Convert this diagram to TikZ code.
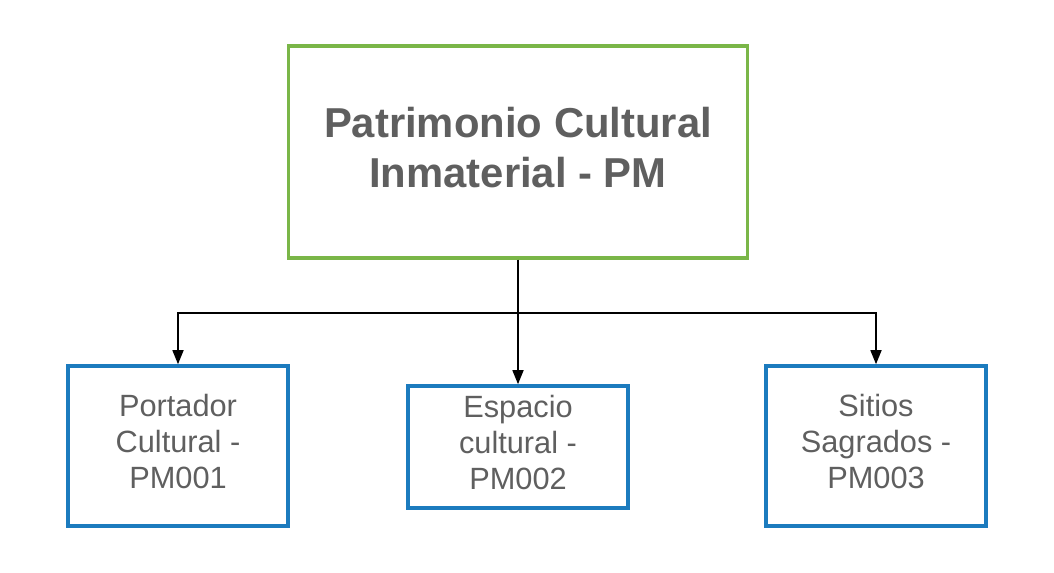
\documentclass[tikz,border=0pt]{standalone}
\usepackage{fontspec}
\setmainfont{Liberation Sans}
\usetikzlibrary{arrows.meta, calc, positioning}

\definecolor{pcgreen}{HTML}{7AB648}
\definecolor{pcblue}{HTML}{1C7BBE}
\definecolor{pctext}{HTML}{5F5F5F}

\begin{document}
\begin{tikzpicture}[
    x=0.02cm, y=-0.02cm,
    root/.style={draw=pcgreen, line width=2pt, minimum width=9.18cm, minimum height=4.24cm,
        align=center, text=pctext, text depth=5.6pt, font=\fontsize{23.8}{28.4}\selectfont\bfseries},
    leaf/.style={draw=pcblue, line width=2pt, minimum width=4.4cm, minimum height=3.2cm,
        align=center, text=pctext, text depth=5.5pt, font=\fontsize{17.5}{20.4}\selectfont},
    link/.style={line width=1.1pt, -{Triangle[length=8pt, width=6.2pt]}},
]
\useasboundingbox (0,0) rectangle (1054,573);

% Root
\node[root] (pm) at (518,152) {Patrimonio Cultural\\Inmaterial - PM};

% Children
\node[leaf] (pm1) at (178,446) {Portador\\Cultural -\\PM001};
\node[leaf, minimum height=2.44cm] (pm2) at (518,447) {Espacio\\cultural -\\PM002};
\node[leaf] (pm3) at (876,446) {Sitios\\Sagrados -\\PM003};

% Connectors
\coordinate (split) at (518,313);
\draw[link] (pm.south) -- (pm2.north);
\draw[link] (split) -| (pm1.north);
\draw[link] (split) -| (pm3.north);

\end{tikzpicture}
\end{document}
